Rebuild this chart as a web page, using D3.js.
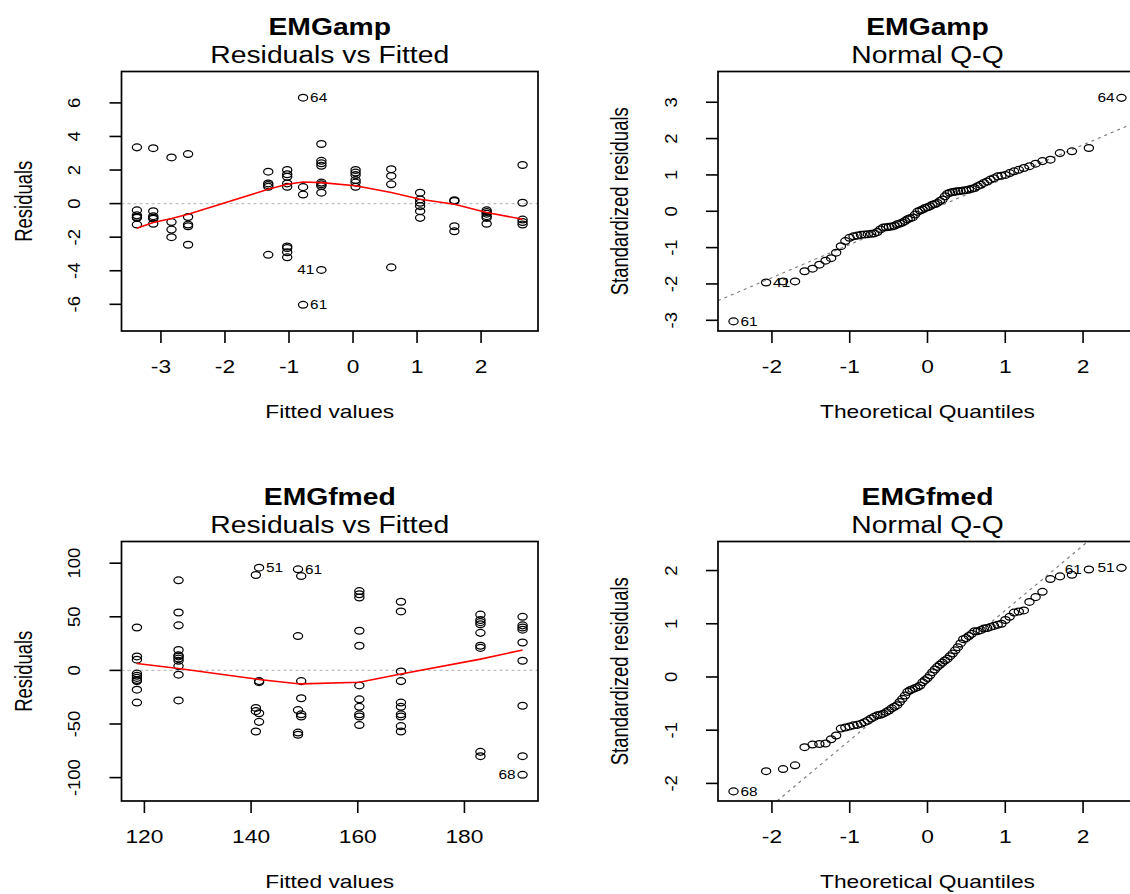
<!DOCTYPE html>
<html>
<head>
<meta charset="utf-8">
<script src="https://cdn.jsdelivr.net/npm/d3@7"></script>
<style>
  html, body { margin: 0; padding: 0; background: #fff; }
  svg { display: block; font-family: "Liberation Sans", Arial, sans-serif; }
</style>
</head>
<body>
<div id="chart"></div>
<script>
// ---- EMGamp: residuals by fitted group ----
const ampFitted = [-3.375, -3.12, -2.835, -2.576, -1.324, -1.028, -0.78, -0.494, 0.04, 0.597, 1.048, 1.583, 2.087, 2.648];
const ampResid = [
  [3.35, -0.4, -0.7, -0.8, -0.85, -1.25],
  [3.3, -0.45, -0.75, -0.85, -0.9, -1.2],
  [2.75, -1.1, -1.55, -2.0],
  [2.95, -0.8, -1.25, -1.35, -2.45],
  [1.9, 1.2, 1.1, 1.0, -3.05],
  [2.0, 1.75, 1.6, 1.2, 1.0, -2.55, -2.65, -2.9, -3.2],
  [6.31, 0.98, 0.54, -6.03],
  [3.55, 2.55, 2.4, 2.25, 1.25, 1.15, 1.05, 0.65, -3.95],
  [2.0, 1.85, 1.7, 1.4, 1.25, 1.0],
  [2.05, 1.65, 1.15, -3.8],
  [0.65, 0.25, 0.05, -0.15, -0.45, -0.85],
  [0.2, 0.15, -1.35, -1.65],
  [-0.4, -0.5, -0.6, -0.75, -0.85, -1.2],
  [2.3, 0.05, -0.95, -1.1, -1.25]
];
const ampSmooth = [-1.47, -1.13, -0.89, -0.63, 0.85, 1.15, 1.29, 1.25, 1.06, 0.66, 0.26, -0.04, -0.53, -0.93];
const ampIds = ["64", "61", "41"];

// ---- EMGfmed: residuals by fitted group ----
const fmedFitted = [118.6, 126.4, 140.9, 141.5, 148.8, 149.4, 160.3, 168.1, 183.0, 190.9];
const fmedResid = [
  [40, 13, 10, -3, -5, -7, -9, -10, -18, -30],
  [84, 54, 42, 19, 14, 13, 11, 9, 4, -4, -28],
  [89, -35, -38, -57],
  [95.8, -10, -11, -40, -48],
  [94.3, 32, -37, -58, -60],
  [88, -10, -26, -41, -43],
  [74, 71, 68, 37, 23, -14, -27, -34, -41, -43, -51],
  [64, 55, -1, -10, -30, -34, -41, -43, -52, -57],
  [52, 47, 45, 43, 35, 23, 21, -76, -80],
  [50, 42, 40, 38, 26, 9, -33, -80, -97.4]
];
const fmedSmooth = [6.5, 1.8, -8.0, -8.5, -12.5, -12.6, -11.0, -3.3, 10.5, 19.0];
const fmedIds = ["68", "51", "61"];

// ---- Normal Q-Q (theoretical quantiles shared, sorted standardized residuals) ----
const theoQuant = [
  -2.494, -2.075, -1.857, -1.703, -1.580, -1.478, -1.390, -1.311, -1.239, -1.174,
  -1.113, -1.056, -1.002, -0.951, -0.902, -0.855, -0.810, -0.767, -0.725, -0.685,
  -0.645, -0.606, -0.569, -0.532, -0.496, -0.460, -0.425, -0.391, -0.357, -0.323,
  -0.289, -0.256, -0.224, -0.192, -0.159, -0.127, -0.095, -0.063, -0.032, 0,
  0.032, 0.063, 0.095, 0.127, 0.159, 0.192, 0.224, 0.256, 0.289, 0.323,
  0.357, 0.391, 0.425, 0.460, 0.496, 0.532, 0.569, 0.606, 0.645, 0.685,
  0.725, 0.767, 0.810, 0.855, 0.902, 0.951, 1.002, 1.056, 1.113, 1.174,
  1.239, 1.311, 1.390, 1.478, 1.580, 1.703, 1.857, 2.075, 2.494
];
const ampStd = [
  -3.03, -1.96, -1.93, -1.93, -1.65, -1.58, -1.47, -1.36, -1.29, -1.14,
  -0.96, -0.82, -0.73, -0.69, -0.67, -0.65, -0.64, -0.63, -0.62, -0.61,
  -0.57, -0.50, -0.45, -0.44, -0.43, -0.42, -0.40, -0.36, -0.34, -0.31,
  -0.27, -0.22, -0.19, -0.17, -0.09, -0.01, 0.02, 0.05, 0.09, 0.11,
  0.14, 0.18, 0.20, 0.23, 0.28, 0.32, 0.41, 0.48, 0.51, 0.53,
  0.54, 0.55, 0.56, 0.57, 0.58, 0.60, 0.62, 0.64, 0.69, 0.73,
  0.78, 0.82, 0.87, 0.91, 0.96, 0.98, 1.00, 1.05, 1.10, 1.14,
  1.19, 1.24, 1.31, 1.38, 1.42, 1.60, 1.65, 1.74, 3.12
];
const fmedStd = [
  -2.15, -1.77, -1.73, -1.66, -1.32, -1.27, -1.26, -1.25, -1.17, -1.10,
  -0.97, -0.95, -0.93, -0.91, -0.90, -0.88, -0.85, -0.82, -0.78, -0.75,
  -0.72, -0.71, -0.69, -0.66, -0.63, -0.59, -0.56, -0.53, -0.47, -0.41,
  -0.35, -0.28, -0.25, -0.23, -0.21, -0.19, -0.16, -0.10, -0.06, -0.02,
  0.03, 0.09, 0.14, 0.19, 0.23, 0.27, 0.31, 0.34, 0.39, 0.44,
  0.50, 0.56, 0.63, 0.71, 0.73, 0.77, 0.81, 0.86, 0.86, 0.88,
  0.91, 0.92, 0.94, 0.96, 0.98, 1.00, 1.07, 1.13, 1.21, 1.23,
  1.25, 1.41, 1.50, 1.60, 1.84, 1.89, 1.92, 2.02, 2.05
];
// qq reference lines: [intercept, slope]
const ampQQLine = [0.0, 0.914];
const fmedQQLine = [0.03, 1.22];

// tick labels
const ampXTicks = [-3, -2, -1, 0, 1, 2];
const ampYTicks = [-6, -4, -2, 0, 2, 4, 6];
const fmedXTicks = [120, 140, 160, 180];
const fmedYTicks = [-100, -50, 0, 50, 100];
const qqXTicks = [-2, -1, 0, 1, 2];
const ampQQYTicks = [-3, -2, -1, 0, 1, 2, 3];
const fmedQQYTicks = [-2, -1, 0, 1, 2];

const W = 1130, H = 894;
const STRETCH = 1.23; // text in the picture is drawn wider than tall
const svg = d3.select("#chart").append("svg")
  .attr("width", W).attr("height", H)
  .attr("viewBox", `0 0 ${W} ${H}`);
svg.append("rect").attr("width", W).attr("height", H).attr("fill", "#fff");

// R style axis padding
function pad(ext, f) {
  const d = (ext[1] - ext[0]) * f;
  return [ext[0] - d, ext[1] + d];
}

function hText(g, x, y, str, size, opts = {}) {
  return g.append("text")
    .attr("transform", `translate(${x},${y}) scale(${STRETCH},1)`)
    .attr("text-anchor", opts.anchor || "middle")
    .style("font-size", size + "px")
    .style("font-weight", opts.bold ? "bold" : "normal")
    .attr("fill", "#000")
    .text(str);
}

function vText(g, x, y, str, size, sy) {
  return g.append("text")
    .attr("transform", `translate(${x},${y}) rotate(-90) scale(1,${sy})`)
    .attr("text-anchor", "middle")
    .style("font-size", size + "px")
    .attr("fill", "#000")
    .text(str);
}

let clipId = 0;
function panel(p) {
  const g = svg.append("g");
  const x = d3.scaleLinear().domain(p.xDomain).range([p.left, p.left + p.width]);
  const y = d3.scaleLinear().domain(p.yDomain).range([p.top + p.height, p.top]);
  const bottom = p.top + p.height;

  // titles
  hText(g, p.left + p.width / 2, p.top - 36.5, p.title, 23, { bold: true });
  hText(g, p.left + p.width / 2, p.top - 8.5, p.subtitle, 23);

  // x axis
  const tick = 12;
  p.xTicks.forEach(t => {
    g.append("line").attr("x1", x(t)).attr("x2", x(t))
      .attr("y1", bottom).attr("y2", bottom + tick)
      .attr("stroke", "#000").attr("stroke-width", 1.6);
    hText(g, x(t), bottom + 42, String(t), 18.5);
  });
  hText(g, p.left + p.width / 2, bottom + 87, p.xlab, 18.5);

  // y axis
  p.yTicks.forEach(t => {
    g.append("line").attr("x1", p.left - tick).attr("x2", p.left)
      .attr("y1", y(t)).attr("y2", y(t))
      .attr("stroke", "#000").attr("stroke-width", 1.6);
    vText(g, p.left - 41.5, y(t), String(t), 18.5, 0.9);
  });
  vText(g, p.left - 90, p.top + p.height / 2, p.ylab, 18.5, 1.3);

  const cid = "clip" + (clipId++);
  g.append("clipPath").attr("id", cid).append("rect")
    .attr("x", p.left).attr("y", p.top).attr("width", p.width).attr("height", p.height);
  const inner = g.append("g").attr("clip-path", `url(#${cid})`);
  return { g, inner, x, y };
}

function box(g, p) {
  g.append("rect").attr("x", p.left).attr("y", p.top)
    .attr("width", p.width).attr("height", p.height)
    .attr("fill", "none").attr("stroke", "#000").attr("stroke-width", 1.7);
}

function drawPoints(layer, pts, x, y) {
  layer.selectAll(null).data(pts).join("ellipse")
    .attr("cx", d => x(d[0])).attr("cy", d => y(d[1]))
    .attr("rx", 4.6).attr("ry", 3.4)
    .attr("fill", "none").attr("stroke", "#000").attr("stroke-width", 1.25);
}

function drawIds(g, pts, ids, x, y) {
  // label the 3 largest |values|, on the side away from the centre
  const top = pts.map((d, i) => ({ d, i }))
    .sort((a, b) => Math.abs(b.d[1]) - Math.abs(a.d[1])).slice(0, ids.length);
  const xs = top.map(t => t.d[0]);
  const mid = (d3.min(xs) + d3.max(xs)) / 2;
  top.forEach((t, k) => {
    const left = t.d[0] > mid;
    hText(g, x(t.d[0]) + (left ? -7 : 7), y(t.d[1]) + 4.5, ids[k], 12.5,
      { anchor: left ? "end" : "start" });
  });
}

function residPanel(p, fitted, resid, smooth, ids) {
  const pts = [];
  fitted.forEach((f, i) => resid[i].forEach(r => pts.push([f, r])));
  const yr = pad(d3.extent(pts, d => d[1]), 0.08);
  p.xDomain = pad(d3.extent(fitted), 0.04);
  p.yDomain = pad(yr, 0.04);
  const { g, inner, x, y } = panel(p);
  inner.append("line").attr("x1", p.left).attr("x2", p.left + p.width)
    .attr("y1", y(0)).attr("y2", y(0))
    .attr("stroke", "#bebebe").attr("stroke-width", 1.3).attr("stroke-dasharray", "3,3");
  drawPoints(inner, pts, x, y);
  inner.append("path")
    .datum(fitted.map((f, i) => [f, smooth[i]]))
    .attr("d", d3.line().x(d => x(d[0])).y(d => y(d[1])))
    .attr("fill", "none").attr("stroke", "#ff0000").attr("stroke-width", 1.6);
  drawIds(g, pts, ids, x, y);
  box(g, p);
}

function qqPanel(p, std, line, ids) {
  const pts = theoQuant.map((q, i) => [q, std[i]]);
  const ext = d3.extent(std);
  p.xDomain = pad(d3.extent(theoQuant), 0.04);
  p.yDomain = pad([ext[0], ext[1] + (ext[1] - ext[0]) * 0.075], 0.04);
  const { g, inner, x, y } = panel(p);
  const [a, b] = line;
  inner.append("line")
    .attr("x1", x(p.xDomain[0])).attr("y1", y(a + b * p.xDomain[0]))
    .attr("x2", x(p.xDomain[1])).attr("y2", y(a + b * p.xDomain[1]))
    .attr("stroke", "#7f7f7f").attr("stroke-width", 1.2).attr("stroke-dasharray", "3,4");
  drawPoints(inner, pts, x, y);
  drawIds(g, pts, ids, x, y);
  box(g, p);
}

const colL = { left: 121.5, width: 416.5 };
const colR = { left: 718, width: 419 };
const rowT = { top: 71.5, height: 259.5 };
const rowB = { top: 541.5, height: 259.5 };

residPanel({ ...colL, ...rowT, title: "EMGamp", subtitle: "Residuals vs Fitted",
  xlab: "Fitted values", ylab: "Residuals", xTicks: ampXTicks, yTicks: ampYTicks },
  ampFitted, ampResid, ampSmooth, ampIds);

qqPanel({ ...colR, ...rowT, title: "EMGamp", subtitle: "Normal Q-Q",
  xlab: "Theoretical Quantiles", ylab: "Standardized residuals", xTicks: qqXTicks, yTicks: ampQQYTicks },
  ampStd, ampQQLine, ampIds);

residPanel({ ...colL, ...rowB, title: "EMGfmed", subtitle: "Residuals vs Fitted",
  xlab: "Fitted values", ylab: "Residuals", xTicks: fmedXTicks, yTicks: fmedYTicks },
  fmedFitted, fmedResid, fmedSmooth, fmedIds);

qqPanel({ ...colR, ...rowB, title: "EMGfmed", subtitle: "Normal Q-Q",
  xlab: "Theoretical Quantiles", ylab: "Standardized residuals", xTicks: qqXTicks, yTicks: fmedQQYTicks },
  fmedStd, fmedQQLine, fmedIds);
</script>
</body>
</html>
